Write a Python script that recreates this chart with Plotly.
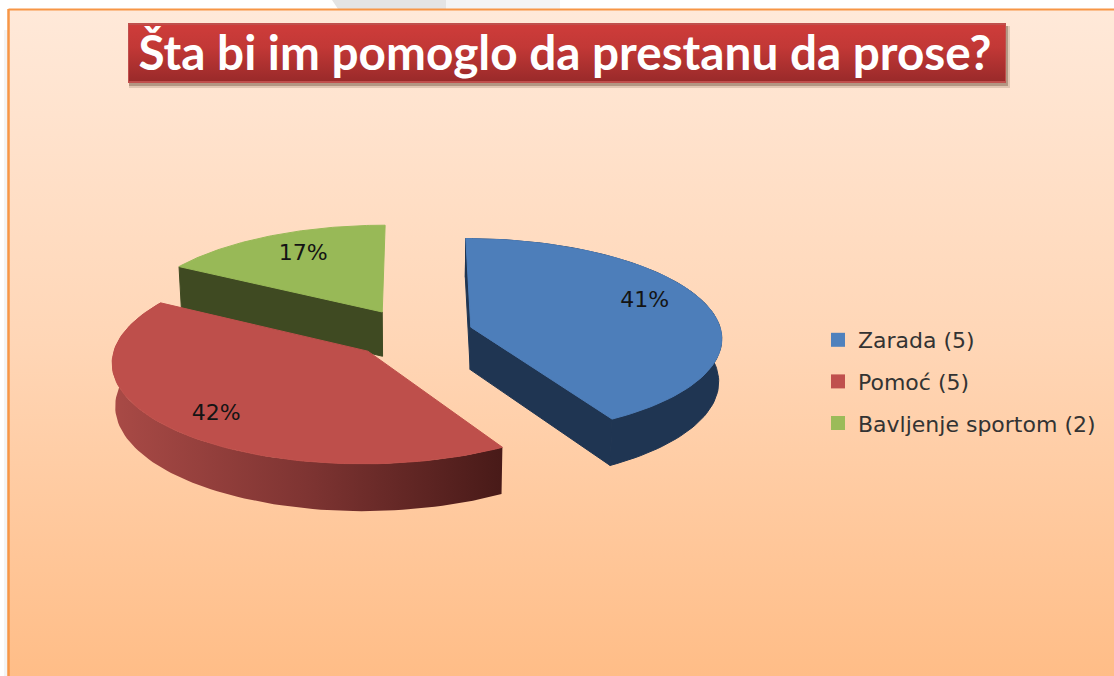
import numpy as np
import plotly.graph_objects as go

# ---------- data ----------
categories = ["Zarada (5)", "Pomoć (5)", "Bavljenje sportom (2)"]
answer_counts = [5, 5, 2]
percent_labels = [41, 42, 17]
title_text = "Šta bi im pomoglo da prestanu da prose?"

# ---------- styling ----------
top_colors = ["#4D7EBA", "#BE4F4B", "#98B957"]
legend_colors = ["#4F81BD", "#C0504D", "#9BBB59"]
wall_colors = ["#1F3552", "#7E3432", "#3F4A22"]
W, H = 1114, 676

# perspective pie geometry (pixels)
VX, VY = 415, 340
R, TILT, K, DEPTH, SHRINK = 255, 0.395, 0.10, 43, 0.99
offsets = [(56.5, -33), (-46.6, 28), (-33.7, -73)]
radius_scale = [0.99, 0.985, 1.0]
depth_scale = [1.0, 0.98, 1.06]
label_radius = [0.72, 0.80, 0.68]
label_nudge = [(3, -8), (6, 2), (-1, -4)]


def project(wx, wy, bottom=False, i=0):
    s = 1 / (1 - K * wy / R)
    x = VX + wx * s
    y = VY + wy * TILT * s
    if bottom:
        x = VX + (x - VX) * SHRINK
        y = y + DEPTH * depth_scale[i] * s
    return x, y


def rim(i, a, b, bottom=False, n=90):
    th = np.radians(np.linspace(a, b, n))
    r = R * radius_scale[i]
    return project(offsets[i][0] + r * np.sin(th), offsets[i][1] - r * np.cos(th), bottom, i)


def apex(i, bottom=False):
    return project(np.array([offsets[i][0]]), np.array([offsets[i][1]]), bottom, i)


def poly(x, y, color=None, gradient=None, edge=False):
    x = np.r_[x, x[0]]
    y = np.r_[y, y[0]]
    kw = dict(fillgradient=gradient) if gradient else dict(fillcolor=color)
    line = dict(width=1, color=color) if edge else dict(width=0)
    return go.Scatter(x=x, y=y, mode="lines", line=line, fill="toself",
                      hoverinfo="skip", showlegend=False, **kw)


def radial_wall(i, angle):
    ax, ay = apex(i)
    bx, by = apex(i, True)
    ex, ey = rim(i, angle, angle, n=1)
    fx, fy = rim(i, angle, angle, True, n=1)
    return poly(np.r_[ex, ax, bx, fx], np.r_[ey, ay, by, fy], wall_colors[i], edge=True)


def top_face(i, a, b):
    ax, ay = apex(i)
    tx, ty = rim(i, a, b)
    return poly(np.r_[ax, tx], np.r_[ay, ty], top_colors[i], edge=True)


edges = np.cumsum([0] + answer_counts) / sum(answer_counts) * 360
fig = go.Figure()

# page background gradient
fig.add_trace(poly(np.array([9, W, W, 9]), np.array([10, 10, H, H]),
                   gradient=dict(type="vertical", start=10, stop=H,
                                 colorscale=[[0, "#FFE9D9"], [0.5, "#FFD6B6"], [1, "#FFBD87"]])))
# title box shadow and box
fig.add_trace(poly(np.array([129, 1010, 1010, 129]), np.array([26, 26, 88, 88]), color="rgba(120,90,70,0.22)"))
fig.add_trace(poly(np.array([129, 1008, 1008, 129]), np.array([26, 26, 86, 86]), color="rgba(110,80,60,0.40)"))
fig.add_trace(poly(np.array([128, 1006, 1006, 128]), np.array([23, 23, 83, 83]), color="#C0504D"))
fig.add_trace(poly(np.array([129, 1005, 1005, 129]), np.array([25, 25, 81, 81]),
                   gradient=dict(type="vertical", start=25, stop=81,
                                 colorscale=[[0, "#CE3C3A"], [0.4, "#C23836"], [1, "#9A2A2A"]])))

# green slice
fig.add_trace(radial_wall(2, edges[2]))
fig.add_trace(top_face(2, edges[2], edges[3]))

# red slice
tx, ty = rim(1, edges[1], edges[2])
lx, ly = rim(1, edges[1], edges[2], True)
fig.add_trace(poly(np.r_[tx, lx[::-1]], np.r_[ty, ly[::-1]],
                   gradient=dict(type="horizontal", start=float(tx.min()), stop=float(tx.max()),
                                 colorscale=[[0, "#A94A46"], [0.5, "#7E3432"], [1, "#481A18"]])))
fig.add_trace(top_face(1, edges[1], edges[2]))

# blue slice
tx, ty = rim(0, edges[0], edges[1])
lx, ly = rim(0, edges[0], edges[1], True)
fig.add_trace(radial_wall(0, edges[0]))
fig.add_trace(radial_wall(0, edges[1]))
fig.add_trace(poly(np.r_[tx, lx[::-1]], np.r_[ty, ly[::-1]], wall_colors[0], edge=True))
fig.add_trace(top_face(0, edges[0], edges[1]))

# percentage labels
for i, v in enumerate(percent_labels):
    mid = np.radians((edges[i] + edges[i + 1]) / 2)
    r = R * label_radius[i]
    lxp, lyp = project(offsets[i][0] + r * np.sin(mid), offsets[i][1] - r * np.cos(mid))
    fig.add_trace(go.Scatter(x=[lxp + label_nudge[i][0]], y=[lyp + label_nudge[i][1]], mode="text",
                             text=[f"{v}%"], textposition="middle center",
                             textfont=dict(family="DejaVu Sans", size=22, color="#141414"),
                             hoverinfo="skip", showlegend=False))

# legend entries
for name, col in zip(categories, legend_colors):
    fig.add_trace(go.Scatter(x=[-100], y=[-100], mode="markers", name=name, legendgroup=name,
                             marker=dict(symbol="square", size=14, color=col),
                             hoverinfo="skip"))

fig.update_layout(
    width=W, height=H,
    margin=dict(l=0, r=0, t=0, b=0),
    paper_bgcolor="#FFFFFF",
    plot_bgcolor="rgba(0,0,0,0)",
    xaxis=dict(range=[0, W], visible=False, fixedrange=True),
    yaxis=dict(range=[H, 0], visible=False, fixedrange=True),
    title=dict(text=f"<b>{title_text}</b>", x=565 / W, y=1 - 53 / H, xanchor="center", yanchor="middle",
               font=dict(family="Lato", size=47.7, color="#FFFFFF")),
    legend=dict(x=818 / W, y=1 - 319 / H, xanchor="left", yanchor="top", bgcolor="rgba(0,0,0,0)",
                tracegroupgap=10, font=dict(family="DejaVu Sans", size=22, color="#333333")),
    shapes=[
        dict(type="path", layer="below", xref="x", yref="y", path="M332,0 L446,0 L446,9 L338,9 Z",
             fillcolor="#E4E4E4", line=dict(width=0)),
        dict(type="path", layer="below", xref="x", yref="y", path="M446,0 L560,0 L560,9 L446,9 Z",
             fillcolor="#F4F4F4", line=dict(width=0)),
        dict(type="rect", layer="below", xref="x", yref="y", x0=4, x1=8, y0=30, y1=H,
             fillcolor="#F4F4F4", line=dict(width=0)),
        dict(type="line", layer="above", xref="x", yref="y", x0=8.5, x1=W, y0=9.5, y1=9.5,
             line=dict(color="#F79646", width=2)),
        dict(type="line", layer="above", xref="x", yref="y", x0=8.5, x1=8.5, y0=9, y1=H,
             line=dict(color="#F79646", width=2.5)),
    ],
)
fig.write_html("out.html", config=dict(displayModeBar=False),
               post_script="document.body.style.margin='0';document.body.style.overflow='hidden';")
